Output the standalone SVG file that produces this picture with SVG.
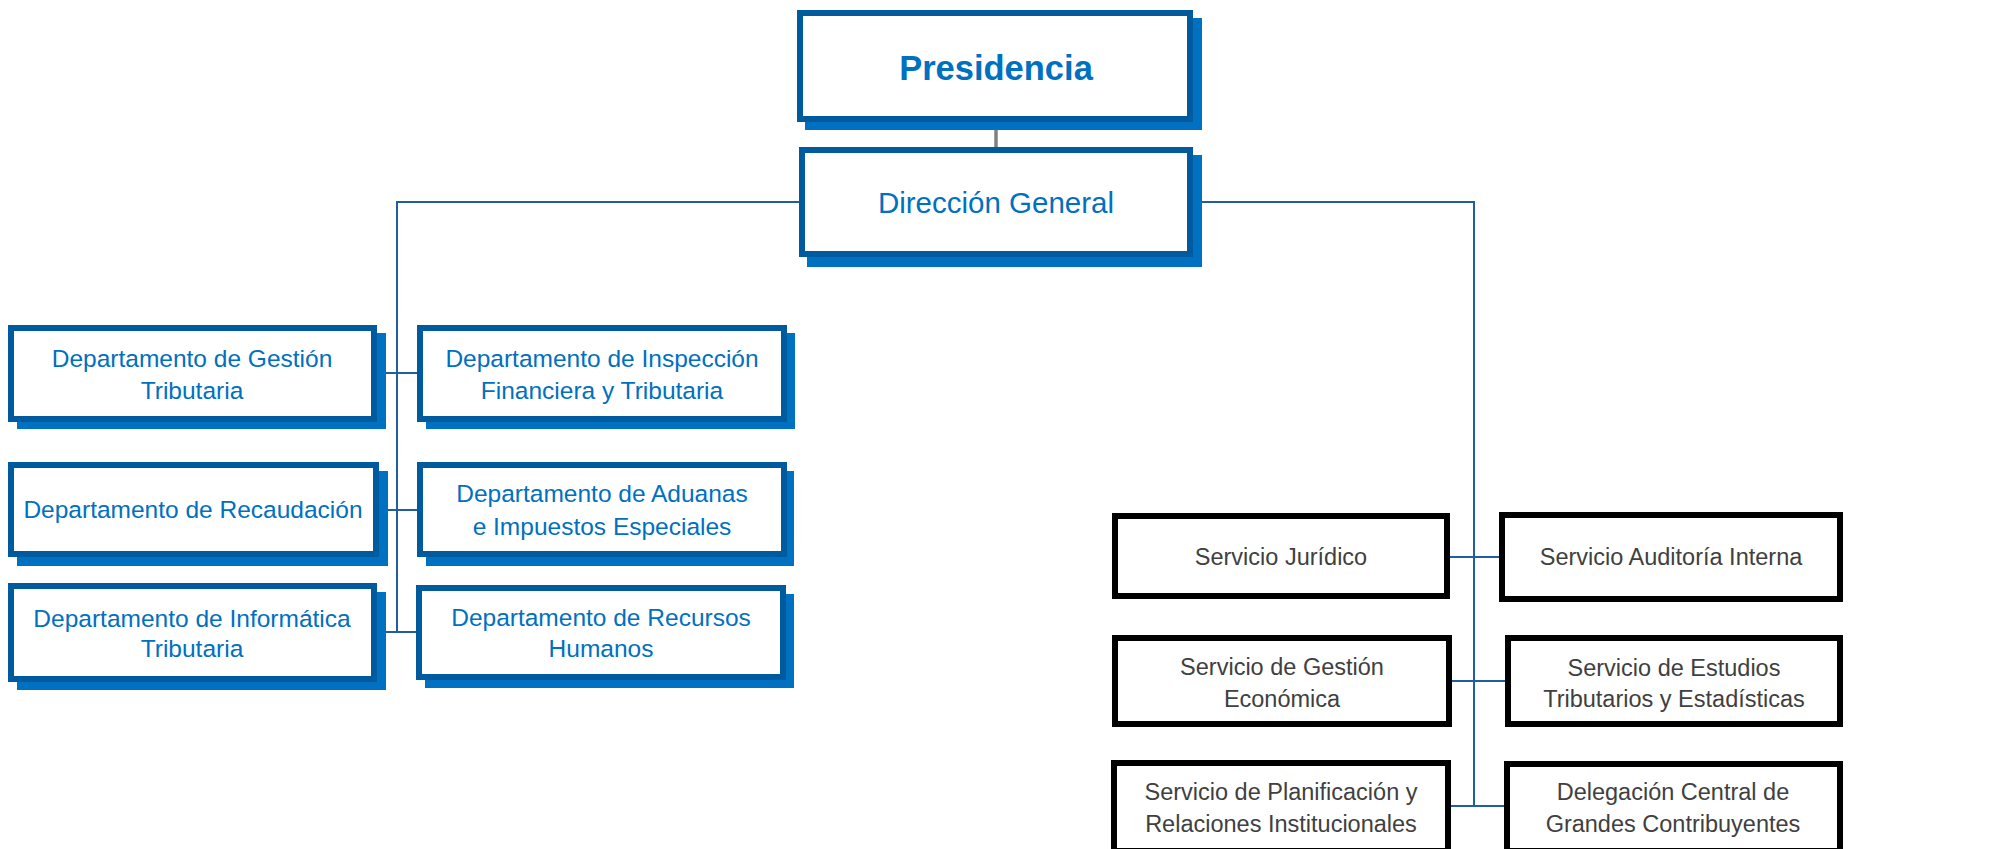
<svg xmlns="http://www.w3.org/2000/svg" width="2009" height="849" viewBox="0 0 2009 849">
<style>
.shadow{fill:#0070c0}
.bbox{fill:#fff;stroke:#005a9e;stroke-width:6}
.kbox{fill:#fff;stroke:#000;stroke-width:6}
.bt{font-family:"Liberation Sans",Arial,sans-serif;font-size:24.5px;fill:#0070c0;text-anchor:middle}
.kt{font-family:"Liberation Sans",Arial,sans-serif;font-size:23.5px;fill:#404040;text-anchor:middle}
.con{stroke:#1f5f9f;stroke-width:2;fill:none}
</style>
<rect width="2009" height="849" fill="#fff"/>
<g id="connectors">
<line x1="996" y1="122" x2="996" y2="147" stroke="#808080" stroke-width="3.5"/>
<polyline class="con" points="799,202 397,202 397,632"/>
<polyline class="con" points="1193,202 1474,202 1474,806"/>
<line class="con" x1="377" y1="373" x2="417" y2="373"/>
<line class="con" x1="379" y1="510" x2="417" y2="510"/>
<line class="con" x1="377" y1="632" x2="416" y2="632"/>
<line class="con" x1="1450" y1="557" x2="1499" y2="557"/>
<line class="con" x1="1452" y1="681" x2="1505" y2="681"/>
<line class="con" x1="1451" y1="806" x2="1504" y2="806"/>
</g>
<g id="presidencia">
<rect class="shadow" x="805" y="18" width="397" height="112"/>
<rect class="bbox" x="800" y="13" width="390" height="106"/>
<text x="996" y="80" font-family="'Liberation Sans',Arial,sans-serif" font-size="34.5" font-weight="bold" fill="#0070c0" text-anchor="middle">Presidencia</text>
</g>
<g id="direccion">
<rect class="shadow" x="807" y="155" width="395" height="112"/>
<rect class="bbox" x="802" y="150" width="388" height="104"/>
<text x="996" y="213" font-family="'Liberation Sans',Arial,sans-serif" font-size="29.5" fill="#0070c0" text-anchor="middle">Dirección General</text>
</g>
<g id="dep-gestion">
<rect class="shadow" x="17" y="333" width="369" height="96"/>
<rect class="bbox" x="11" y="328" width="363" height="91"/>
<text class="bt" x="192" y="367">Departamento de Gestión</text>
<text class="bt" x="192" y="399">Tributaria</text>
</g>
<g id="dep-inspeccion">
<rect class="shadow" x="426" y="333" width="369" height="96"/>
<rect class="bbox" x="420" y="328" width="364" height="91"/>
<text class="bt" x="602" y="367">Departamento de Inspección</text>
<text class="bt" x="602" y="399">Financiera y Tributaria</text>
</g>
<g id="dep-recaudacion">
<rect class="shadow" x="17" y="471" width="371" height="95"/>
<rect class="bbox" x="11" y="465" width="365" height="89"/>
<text class="bt" x="193" y="518">Departamento de Recaudación</text>
</g>
<g id="dep-aduanas">
<rect class="shadow" x="426" y="471" width="368" height="95"/>
<rect class="bbox" x="420" y="465" width="364" height="89"/>
<text class="bt" x="602" y="502">Departamento de Aduanas</text>
<text class="bt" x="602" y="535">e Impuestos Especiales</text>
</g>
<g id="dep-informatica">
<rect class="shadow" x="17" y="592" width="369" height="98"/>
<rect class="bbox" x="11" y="586" width="363" height="93"/>
<text class="bt" x="192" y="627">Departamento de Informática</text>
<text class="bt" x="192" y="657">Tributaria</text>
</g>
<g id="dep-recursos">
<rect class="shadow" x="425" y="594" width="369" height="94"/>
<rect class="bbox" x="419" y="588" width="364" height="89"/>
<text class="bt" x="601" y="626">Departamento de Recursos</text>
<text class="bt" x="601" y="657">Humanos</text>
</g>
<g id="serv-juridico">
<rect class="kbox" x="1115" y="516" width="332" height="80"/>
<text class="kt" x="1281" y="565">Servicio Jurídico</text>
</g>
<g id="serv-auditoria">
<rect class="kbox" x="1502" y="515" width="338" height="84"/>
<text class="kt" x="1671" y="565">Servicio Auditoría Interna</text>
</g>
<g id="serv-gestion-economica">
<rect class="kbox" x="1115" y="638" width="334" height="86"/>
<text class="kt" x="1282" y="675">Servicio de Gestión</text>
<text class="kt" x="1282" y="707">Económica</text>
</g>
<g id="serv-estudios">
<rect class="kbox" x="1508" y="638" width="332" height="86"/>
<text class="kt" x="1674" y="676">Servicio de Estudios</text>
<text class="kt" x="1674" y="707">Tributarios y Estadísticas</text>
</g>
<g id="serv-planificacion">
<rect class="kbox" x="1114" y="763" width="334" height="88"/>
<text class="kt" x="1281" y="800">Servicio de Planificación y</text>
<text class="kt" x="1281" y="832">Relaciones Institucionales</text>
</g>
<g id="delegacion">
<rect class="kbox" x="1507" y="764" width="333" height="87"/>
<text class="kt" x="1673" y="800">Delegación Central de</text>
<text class="kt" x="1673" y="832">Grandes Contribuyentes</text>
</g>
</svg>
